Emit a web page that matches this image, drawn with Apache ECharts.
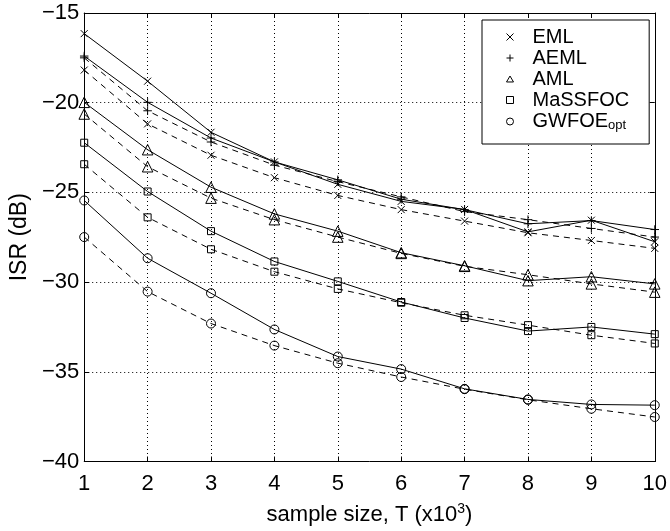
<!DOCTYPE html>
<html>
<head>
<meta charset="utf-8">
<script src="https://cdn.jsdelivr.net/npm/echarts@6/dist/echarts.min.js"></script>
<style>
  html, body { margin: 0; padding: 0; background: #fff; }
  #chart { width: 670px; height: 531px; }
</style>
</head>
<body>
<div id="chart"></div>
<script>
const sampleSize = [1, 2, 3, 4, 5, 6, 7, 8, 9, 10];
const yTicks = [-40, -35, -30, -25, -20, -15];

const emlSolid = [-16.15, -18.8, -21.65, -23.3, -24.55, -25.5, -25.95, -27.2, -26.55, -27.75];
const emlDashed = [-18.18, -21.18, -22.93, -24.18, -25.17, -25.96, -26.6, -27.25, -27.68, -28.12];
const aemlSolid = [-17.4, -19.98, -21.97, -23.3, -24.3, -25.38, -25.96, -26.75, -26.57, -27.07];
const aemlDashed = [-17.5, -20.45, -22.19, -23.48, -24.4, -25.25, -26.07, -26.52, -27.01, -27.49];
const amlSolid = [-19.98, -22.62, -24.71, -26.2, -27.16, -28.36, -29.09, -29.92, -29.7, -30.1];
const amlDashed = [-20.63, -23.57, -25.32, -26.52, -27.49, -28.4, -29.12, -29.59, -30.1, -30.56];
const massSolid = [-22.23, -24.95, -27.16, -28.85, -29.96, -31.11, -32.0, -32.73, -32.5, -32.9];
const massDashed = [-23.43, -26.39, -28.17, -29.42, -30.38, -31.15, -31.85, -32.4, -32.96, -33.42];
const gwSolid = [-25.45, -28.67, -30.62, -32.64, -34.15, -34.85, -35.95, -36.54, -36.82, -36.86];
const gwDashed = [-27.49, -30.53, -32.31, -33.54, -34.52, -35.29, -35.97, -36.56, -37.06, -37.52];

const FONT = "Liberation Sans";
const CROSS = "path://M0 0L10 10M10 0L0 10";
const PLUS = "path://M5 0V10M0 5H10";
const TRI = "path://M5 0L10 8.5L0 8.5Z";
const SQUARE = "path://M0 0H10V10H0Z";

const methods = [
  { name: "EML", symbol: CROSS, size: 7, solid: emlSolid, dashed: emlDashed },
  { name: "AEML", symbol: PLUS, size: 8.5, solid: aemlSolid, dashed: aemlDashed },
  { name: "AML", symbol: TRI, size: 10.5, solid: amlSolid, dashed: amlDashed },
  { name: "MaSSFOC", symbol: SQUARE, size: 7, solid: massSolid, dashed: massDashed },
  { name: "GWFOE", symbol: "circle", size: 9, solid: gwSolid, dashed: gwDashed },
];

const markStyle = { color: "transparent", borderColor: "#000", borderWidth: 1 };

function lineSeries(name, m, values, type) {
  return {
    name,
    type: "line",
    data: sampleSize.map((x, i) => [x, values[i]]),
    symbol: m.symbol,
    symbolSize: m.size,
    showAllSymbol: true,
    color: "#000",
    itemStyle: markStyle,
    lineStyle: { color: "#000", width: 1, type },
    emphasis: { disabled: true },
    z: 3,
  };
}

const series = [];
methods.forEach((m) => {
  series.push(lineSeries(m.name, m, m.solid, "solid"));
  series.push(lineSeries(m.name + " (dashed)", m, m.dashed, [6, 5]));
});

const minus = (v) => String(v).replace("-", "\u2212");

const chart = echarts.init(document.getElementById("chart"));
chart.setOption({
  animation: false,
  backgroundColor: "#fff",
  textStyle: { fontFamily: FONT, color: "#000" },
  grid: { left: 82, right: 14, top: 13, bottom: 65 },
  legend: {
    orient: "vertical",
    left: 482,
    top: 20,
    padding: [7, 20, 12, 24],
    itemWidth: 7,
    itemHeight: 7,
    itemGap: 1,
    backgroundColor: "#fff",
    borderColor: "#000",
    borderWidth: 1,
    borderRadius: 0,
    selectedMode: false,
    data: methods.map((m) => ({
      name: m.name,
      icon: m.symbol,
      itemStyle: markStyle,
    })),
    formatter: (name) => (name === "GWFOE" ? "{a|GWFOE}{s|opt}" : "{a|" + name + "}"),
    textStyle: {
      fontFamily: FONT,
      color: "#000",
      padding: [0, 0, 0, 14],
      rich: {
        a: { fontFamily: FONT, fontSize: 20, lineHeight: 22, color: "#000" },
        s: { fontFamily: FONT, fontSize: 13, lineHeight: 22, color: "#000", padding: [8, 0, 0, 0] },
      },
    },
  },
  xAxis: [
    {
      type: "value",
      min: 1,
      max: 10,
      interval: 1,
      name: "{a|sample size, T (x10}{s|3}{a|)}",
      nameLocation: "middle",
      nameGap: 41,
      nameTextStyle: {
        rich: {
          a: { fontFamily: FONT, fontSize: 22, color: "#000" },
          s: { fontFamily: FONT, fontSize: 14, color: "#000", padding: [0, 0, 11, 0] },
        },
      },
      axisLine: { lineStyle: { color: "#000", width: 1 } },
      axisTick: { inside: true, length: 5, lineStyle: { color: "#000" } },
      axisLabel: { fontFamily: FONT, fontSize: 22, color: "#000", margin: 11 },
      splitLine: { show: true, lineStyle: { color: "#000", width: 1, type: [1, 3] } },
    },
    {
      type: "value",
      position: "top",
      min: 1,
      max: 10,
      interval: 1,
      axisLine: { show: true, onZero: false, lineStyle: { color: "#000", width: 1 } },
      axisTick: { show: true, inside: true, length: 5, lineStyle: { color: "#000" } },
      axisLabel: { show: false },
      splitLine: { show: false },
    },
  ],
  yAxis: [
    {
      type: "value",
      min: yTicks[0],
      max: yTicks[yTicks.length - 1],
      interval: 5,
      name: "ISR (dB)",
      nameLocation: "middle",
      nameGap: 50,
      nameRotate: 90,
      nameTextStyle: { fontFamily: FONT, fontSize: 23, color: "#000" },
      axisLine: { show: true, onZero: false, lineStyle: { color: "#000", width: 1 } },
      axisTick: { show: true, inside: true, length: 5, lineStyle: { color: "#000" } },
      axisLabel: { fontFamily: FONT, fontSize: 22, color: "#000", margin: 5, formatter: minus },
      splitLine: { show: true, lineStyle: { color: "#000", width: 1, type: [1, 3] } },
    },
    {
      type: "value",
      position: "right",
      min: yTicks[0],
      max: yTicks[yTicks.length - 1],
      interval: 5,
      axisLine: { show: true, onZero: false, lineStyle: { color: "#000", width: 1 } },
      axisTick: { show: true, inside: true, length: 5, lineStyle: { color: "#000" } },
      axisLabel: { show: false },
      splitLine: { show: false },
    },
  ],
  series,
});
</script>
</body>
</html>
